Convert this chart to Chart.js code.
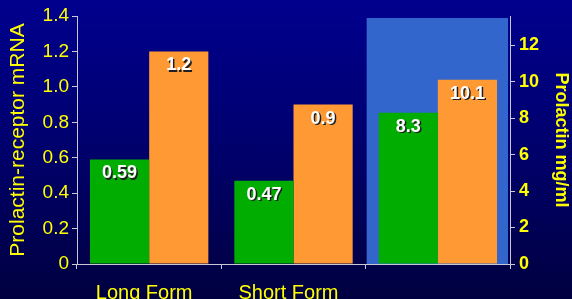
<!DOCTYPE html>
<html>
<head>
<meta charset="utf-8">
<script src="https://cdn.jsdelivr.net/npm/chart.js@4/dist/chart.umd.min.js"></script>
<style>
  html, body { margin: 0; padding: 0; }
  body {
    width: 572px; height: 299px; overflow: hidden;
    background: linear-gradient(to bottom, #00008e 0%, #000070 45%, #000040 100%);
  }
  #wrap { position: relative; width: 572px; height: 299px; }
</style>
</head>
<body>
<div id="wrap"><canvas id="barChart" width="572" height="299"></canvas></div>
<script>
// categories and values
const categories = ['Long Form', 'Short Form', ''];
const mrnaShort = [0.59, 0.47, null];   // green, left axis
const mrnaLong = [1.2, 0.9, null];      // orange, left axis
const prolactinA = [null, null, 8.3];   // green, right axis
const prolactinB = [null, null, 10.1];  // orange, right axis
const highlightIndex = 2;

const yellow = '#ffff00';
const green = '#00ad00';
const orange = '#ff9933';
const axisGray = '#c8c8d8';
const fontFamily = '"Liberation Sans", Arial, sans-serif';

// blue box behind the third group
const highlightBox = {
  id: 'highlightBox',
  beforeDatasetsDraw(chart) {
    const ctx = chart.ctx;
    const x = chart.scales.x;
    const area = chart.chartArea;
    const w = (x.right - x.left) / categories.length;
    const cx = x.getPixelForValue(highlightIndex);
    ctx.save();
    ctx.fillStyle = '#3366cc';
    ctx.fillRect(cx - w / 2 + 1, area.top + 2, w - 3, area.bottom - area.top - 2);
    ctx.restore();
  }
};

// white value labels inside the top of each bar
const valueLabels = {
  id: 'valueLabels',
  afterDatasetsDraw(chart) {
    const ctx = chart.ctx;
    ctx.save();
    ctx.font = 'bold 18px ' + fontFamily;
    ctx.textAlign = 'center';
    ctx.textBaseline = 'middle';
    chart.data.datasets.forEach((ds, i) => {
      chart.getDatasetMeta(i).data.forEach((bar, j) => {
        const v = ds.data[j];
        if (v == null) return;
        ctx.fillStyle = '#202020';
        ctx.fillText(String(v), bar.x + 1.5, bar.y + 15.5);
        ctx.fillStyle = '#ffffff';
        ctx.fillText(String(v), bar.x, bar.y + 14);
      });
    });
    ctx.restore();
  }
};

const barChart = document.getElementById('barChart');

new Chart(barChart, {
  type: 'bar',
  data: {
    labels: categories,
    datasets: [
      { label: 'mRNA 1', data: mrnaShort, backgroundColor: green, yAxisID: 'y', skipNull: true },
      { label: 'mRNA 2', data: mrnaLong, backgroundColor: orange, yAxisID: 'y', skipNull: true },
      { label: 'Prolactin 1', data: prolactinA, backgroundColor: green, yAxisID: 'y2', skipNull: true },
      { label: 'Prolactin 2', data: prolactinB, backgroundColor: orange, yAxisID: 'y2', skipNull: true }
    ]
  },
  options: {
    responsive: false,
    animation: false,
    devicePixelRatio: 1,
    layout: { padding: { top: 16, left: 0, right: 0, bottom: 0 } },
    datasets: { bar: { categoryPercentage: 0.82, barPercentage: 1.0 } },
    plugins: { legend: { display: false }, tooltip: { enabled: false } },
    scales: {
      x: {
        offset: true,
        grid: { display: true, drawOnChartArea: false, offset: true, color: axisGray, tickLength: 5 },
        border: { color: axisGray, width: 1 },
        ticks: {
          color: yellow, padding: 12, maxRotation: 0, autoSkip: false, labelOffset: -5,
          font: { family: fontFamily, size: 20 }
        },
        afterFit(s) { s.height = 35; }
      },
      y: {
        position: 'left',
        min: 0, max: 1.4,
        grid: { drawOnChartArea: false, color: axisGray, tickLength: 5 },
        border: { color: axisGray, width: 1 },
        ticks: {
          stepSize: 0.2, color: yellow, padding: 3,
          font: { family: fontFamily, size: 19 },
          callback: v => v === 0 ? '0' : v.toFixed(1)
        },
        title: {
          display: true, text: 'Prolactin-receptor mRNA', color: yellow, padding: { top: 6, bottom: 0 },
          font: { family: fontFamily, size: 21 }
        },
        afterFit(s) { s.width = 77; }
      },
      y2: {
        position: 'right',
        min: 0, max: 13.6,
        grid: { drawOnChartArea: false, color: axisGray, tickLength: 5 },
        border: { color: axisGray, width: 1 },
        afterBuildTicks(s) { s.ticks = s.ticks.filter(t => t.value % 2 === 0); },
        ticks: {
          stepSize: 2, color: yellow, padding: 4,
          font: { family: fontFamily, size: 18, weight: 'bold' }
        },
        title: {
          display: true, text: 'Prolactin mg/ml', color: yellow, padding: { top: 0, bottom: 2 },
          font: { family: fontFamily, size: 18, weight: 'bold' }
        },
        afterFit(s) { s.width = 62; }
      }
    }
  },
  plugins: [highlightBox, valueLabels]
});
</script>
</body>
</html>
